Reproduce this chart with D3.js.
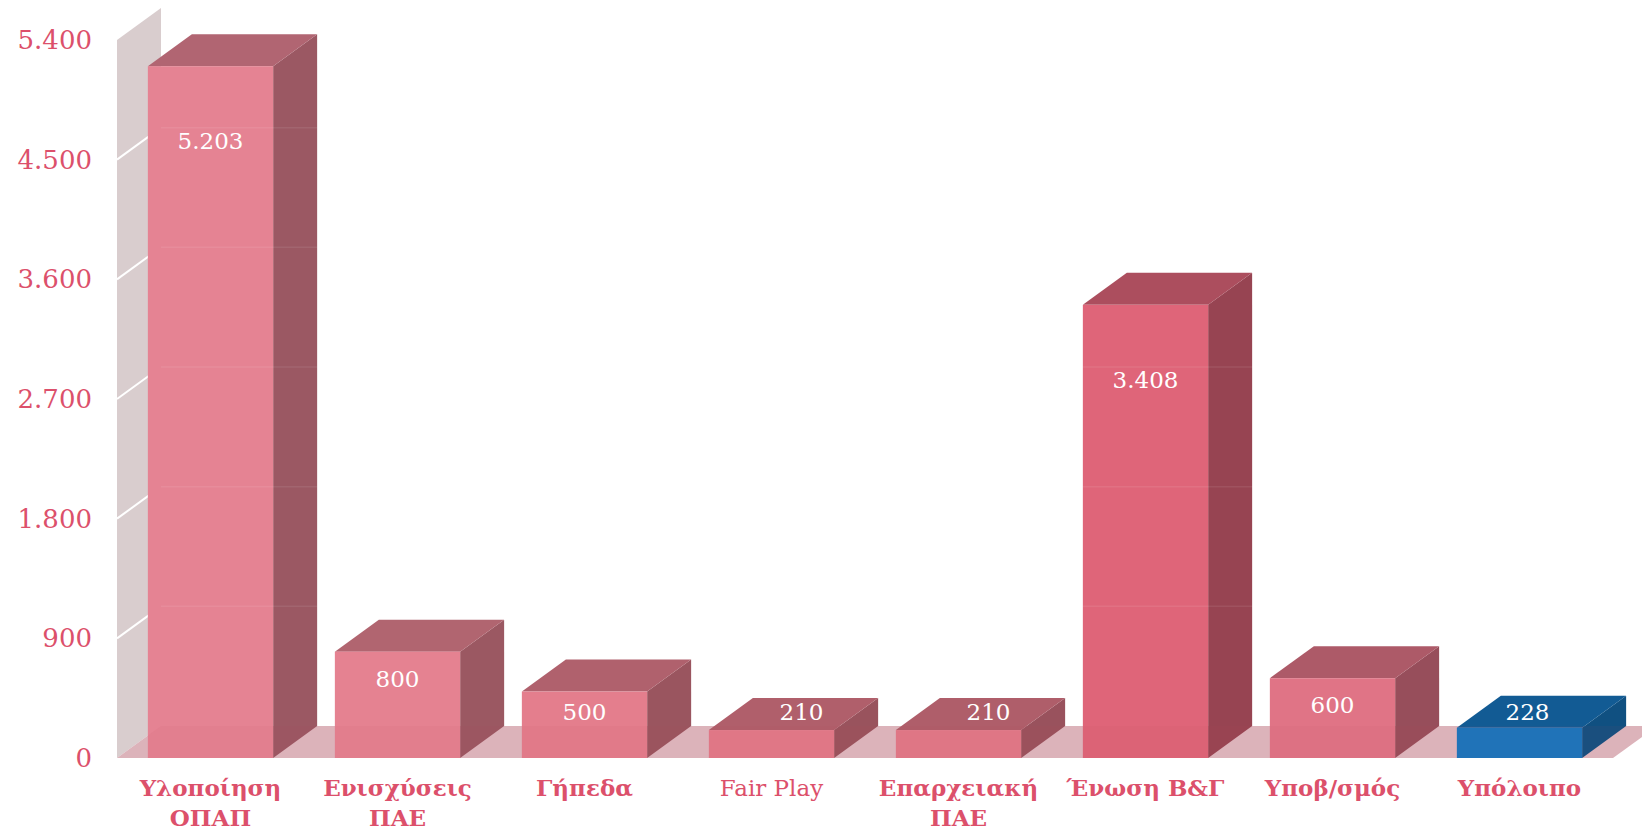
<!DOCTYPE html>
<meta charset="utf-8">
<html>
<head>
<title>Chart</title>
<script src="https://d3js.org/d3.v7.min.js"></script>
<style>
  body { margin: 0; background: #fff; }
  svg { display: block; }
  text { font-family: "DejaVu Serif", serif; }
</style>
</head>
<body>
<div id="chart"></div>
<script>
// data
var categories = ["Υλοποίηση\nΟΠΑΠ", "Ενισχύσεις\nΠΑΕ", "Γήπεδα", "Fair Play", "Επαρχειακή\nΠΑΕ", "Ένωση Β&Γ", "Υποβ/σμός", "Υπόλοιπο"];
var values = [5203, 800, 500, 210, 210, 3408, 600, 228];
var barColors = ["#e58393", "#e58291", "#e47e8d", "#e37b8a", "#e27a89", "#df6579", "#e07486", "#1776bf"];
var tickValues = [0, 900, 1800, 2700, 3600, 4500, 5400];

var width = 1642, height = 833;
var depthX = 44, depthY = -32;
var x0 = 117, x1 = 1613;

var fmt = d3.formatLocale({decimal: ",", thousands: ".", grouping: [3], currency: ["", "€"]}).format(",d");

var svg = d3.select("#chart").append("svg")
  .attr("width", width)
  .attr("height", height);

var x = d3.scaleBand()
  .domain(categories)
  .range([x0, x1])
  .paddingInner(0.33)
  .paddingOuter(0.165);

var y = d3.scaleLinear()
  .domain([0, 5400])
  .range([758, 40]);

function pts(arr) { return arr.map(function(p) { return p.join(","); }).join(" "); }

// side wall
svg.append("polygon")
  .attr("points", pts([[x0, y(0)], [x0, y(5400)], [x0 + depthX, y(5400) + depthY], [x0 + depthX, y(0) + depthY]]))
  .attr("fill", "#d9cdce");

// floor
var floorPts = pts([[x0, y(0)], [x1, y(0)], [x1 + depthX, y(0) + depthY], [x0 + depthX, y(0) + depthY]]);
svg.append("polygon")
  .attr("points", floorPts)
  .attr("fill", "#dfbac1");

// gridlines on the wall
svg.append("g").selectAll("line")
  .data(tickValues.slice(1, -1))
  .enter().append("line")
  .attr("x1", x0).attr("y1", function(d) { return y(d); })
  .attr("x2", x0 + depthX).attr("y2", function(d) { return y(d) + depthY; })
  .attr("stroke", "#fff").attr("stroke-width", 2);

// bars
var bars = svg.append("g").selectAll("g")
  .data(values)
  .enter().append("g");

bars.append("polygon")
  .attr("points", function(d, i) {
    var r = x(categories[i]) + x.bandwidth();
    return pts([[r, y(0)], [r, y(d)], [r + depthX, y(d) + depthY], [r + depthX, y(0) + depthY]]);
  })
  .attr("fill", function(d, i) { return d3.color(barColors[i]).darker(1.1); });

bars.append("polygon")
  .attr("points", function(d, i) {
    var l = x(categories[i]), r = l + x.bandwidth();
    return pts([[l, y(d)], [r, y(d)], [r + depthX, y(d) + depthY], [l + depthX, y(d) + depthY]]);
  })
  .attr("fill", function(d, i) { return d3.color(barColors[i]).darker(0.72); });

bars.append("rect")
  .attr("x", function(d, i) { return x(categories[i]); })
  .attr("y", function(d) { return y(d); })
  .attr("width", x.bandwidth())
  .attr("height", function(d) { return y(0) - y(d); })
  .attr("fill", function(d, i) { return barColors[i]; });

// faint back-plane gridlines across the bars
svg.append("g").selectAll("line")
  .data(tickValues.slice(1, -1))
  .enter().append("line")
  .attr("x1", x0 + depthX).attr("x2", x1 + depthX)
  .attr("y1", function(d) { return y(d) + depthY; })
  .attr("y2", function(d) { return y(d) + depthY; })
  .attr("stroke", "#fff").attr("stroke-opacity", 0.08).attr("stroke-width", 1.5);

// floor seen through the bars
svg.append("polygon")
  .attr("points", floorPts)
  .attr("fill", "#c0455c")
  .attr("fill-opacity", 0.06);

// value labels
svg.append("g").selectAll("text")
  .data(values)
  .enter().append("text")
  .attr("x", function(d, i) { return x(categories[i]) + x.bandwidth() / 2 + (d < 220 ? 30 : d < 400 ? 8 : 0); })
  .attr("y", function(d) { return Math.min(y(d) + (d > 1000 ? 75 : 27), y(0) - 46); })
  .attr("dy", "0.35em")
  .attr("text-anchor", "middle")
  .attr("fill", "#fff")
  .style("font-size", "23px")
  .text(function(d) { return fmt(d); });

// y tick labels
svg.append("g").selectAll("text")
  .data(tickValues)
  .enter().append("text")
  .attr("x", 92)
  .attr("y", function(d) { return y(d); })
  .attr("dy", "0.35em")
  .attr("text-anchor", "end")
  .attr("fill", "#dc506b")
  .style("font-size", "26px")
  .text(function(d) { return fmt(d); });

// category labels
var cat = svg.append("g").selectAll("text")
  .data(categories)
  .enter().append("text")
  .attr("text-anchor", "middle")
  .attr("fill", "#dc506b")
  .style("font-size", "23px")
  .style("font-weight", function(d) { return d === "Fair Play" ? "normal" : "bold"; });

cat.selectAll("tspan")
  .data(function(d) { return d.split("\n").map(function(t) { return {t: t, c: d}; }); })
  .enter().append("tspan")
  .attr("x", function(d) { return x(d.c) + x.bandwidth() / 2; })
  .attr("y", function(d, i) { return 788 + i * 30; })
  .attr("dy", "0.35em")
  .text(function(d) { return d.t; });
</script>
</body>
</html>
